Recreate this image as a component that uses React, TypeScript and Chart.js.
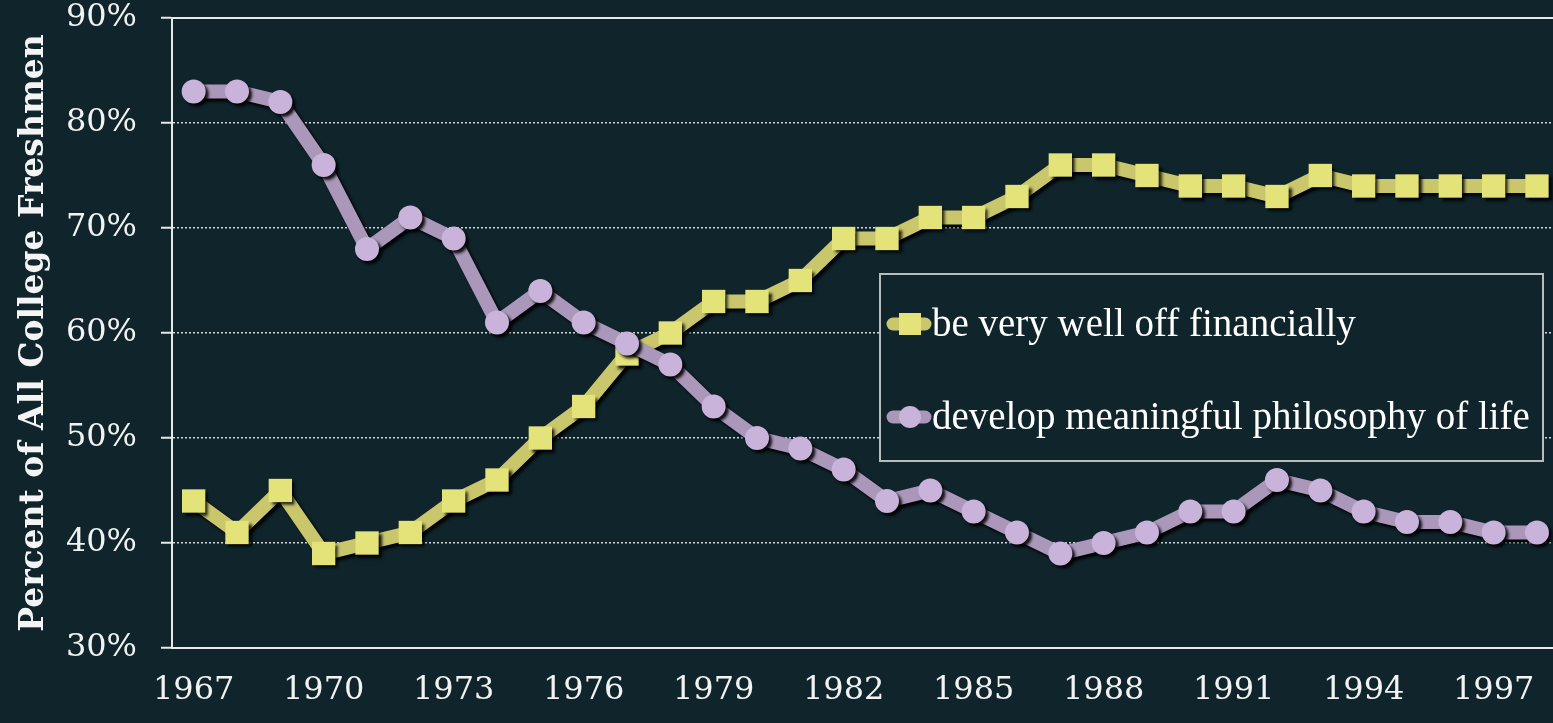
import React, { useEffect, useRef } from "react";
import { Chart, registerables } from "chart.js";

Chart.register(...registerables);

const years = [
  1967, 1968, 1969, 1970, 1971, 1972, 1973, 1974, 1975, 1976, 1977, 1978, 1979, 1980, 1981, 1982,
  1983, 1984, 1985, 1986, 1987, 1988, 1989, 1990, 1991, 1992, 1993, 1994, 1995, 1996, 1997, 1998,
];
const wellOffValues = [
  44, 41, 45, 39, 40, 41, 44, 46, 50, 53, 58, 60, 63, 63, 65, 69,
  69, 71, 71, 73, 76, 76, 75, 74, 74, 73, 75, 74, 74, 74, 74, 74,
];
const philosophyValues = [
  83, 83, 82, 76, 68, 71, 69, 61, 64, 61, 59, 57, 53, 50, 49, 47,
  44, 45, 43, 41, 39, 40, 41, 43, 43, 46, 45, 43, 42, 42, 41, 41,
];
const xTickYears = [1967, 1970, 1973, 1976, 1979, 1982, 1985, 1988, 1991, 1994, 1997];
const seriesLabels = ["be very well off financially", "develop meaningful philosophy of life"];
const yAxisTitle = "Percent of All College Freshmen";

const BG = "#10242b";
const YELLOW_LINE = "#c9c66b";
const YELLOW_POINT = "#e3e37a";
const PURPLE_LINE = "#ab97ba";
const PURPLE_POINT = "#c9b3da";

const shadowPlugin = {
  id: "shadowPlugin",
  beforeDatasetDraw(chart: any) {
    const ctx = chart.ctx;
    ctx.save();
    ctx.shadowColor = "rgba(0,0,0,0.9)";
    ctx.shadowBlur = 3;
    ctx.shadowOffsetX = 3;
    ctx.shadowOffsetY = 3;
  },
  afterDatasetDraw(chart: any) {
    chart.ctx.restore();
  },
};

const frameAndLegendPlugin = {
  id: "frameAndLegend",
  beforeDraw(chart: any) {
    const ctx = chart.ctx;
    ctx.save();
    ctx.fillStyle = BG;
    ctx.fillRect(0, 0, chart.width, chart.height);
    ctx.restore();
  },
  beforeDatasetsDraw(chart: any) {
    const { ctx, chartArea } = chart;
    ctx.save();
    ctx.strokeStyle = "#e8e8e8";
    ctx.lineWidth = 2;
    ctx.beginPath();
    ctx.moveTo(chartArea.left, chartArea.top);
    ctx.lineTo(chartArea.right, chartArea.top);
    ctx.stroke();
    ctx.restore();
  },
  afterDraw(chart: any) {
    const { ctx } = chart;
    const boxL = 880, boxT = 274, boxR = 1543, boxB = 461;
    ctx.save();
    ctx.fillStyle = BG;
    ctx.fillRect(boxL, boxT, boxR - boxL, boxB - boxT);
    ctx.strokeStyle = "#b8bcbd";
    ctx.lineWidth = 2;
    ctx.strokeRect(boxL, boxT, boxR - boxL, boxB - boxT);
    const ds = chart.data.datasets;
    const order = [ds.findIndex((d: any) => d.label === seriesLabels[0]), ds.findIndex((d: any) => d.label === seriesLabels[1])];
    const rowsY = [324, 417];
    order.forEach((idx: number, i: number) => {
      const d = ds[idx];
      const y = rowsY[i];
      ctx.save();
      ctx.strokeStyle = d.borderColor;
      ctx.lineWidth = 13;
      ctx.lineCap = "round";
      ctx.beginPath();
      ctx.moveTo(893, y);
      ctx.lineTo(925, y);
      ctx.stroke();
      ctx.fillStyle = d.pointBackgroundColor;
      if (d.pointStyle === "rect") {
        ctx.fillRect(899, y - 11, 22, 22);
      } else {
        ctx.beginPath();
        ctx.arc(910, y, 11, 0, Math.PI * 2);
        ctx.fill();
      }
      ctx.restore();
      ctx.fillStyle = "#ffffff";
      ctx.font = "39px 'Liberation Serif'";
      ctx.textBaseline = "middle";
      ctx.textAlign = "left";
      ctx.fillText(d.label, 932, y + 2);
    });
    ctx.restore();
  },
};

export default function App() {
  const canvasRef = useRef<HTMLCanvasElement | null>(null);

  useEffect(() => {
    const canvas = canvasRef.current;
    if (!canvas) return;
    const chart = new Chart(canvas, {
      type: "line",
      data: {
        datasets: [
          {
            label: seriesLabels[0],
            data: years.map((yr, i) => ({ x: yr, y: wellOffValues[i] })),
            borderColor: YELLOW_LINE,
            backgroundColor: YELLOW_POINT,
            pointBackgroundColor: YELLOW_POINT,
            pointBorderColor: YELLOW_POINT,
            pointBorderWidth: 0,
            pointStyle: "rect",
            pointRadius: 16.5,
            borderWidth: 14,
            tension: 0,
            order: 1,
          },
          {
            label: seriesLabels[1],
            data: years.map((yr, i) => ({ x: yr, y: philosophyValues[i] })),
            borderColor: PURPLE_LINE,
            backgroundColor: PURPLE_POINT,
            pointBackgroundColor: PURPLE_POINT,
            pointBorderColor: PURPLE_POINT,
            pointBorderWidth: 0,
            pointStyle: "circle",
            pointRadius: 12,
            borderWidth: 14,
            tension: 0,
            order: 0,
          },
        ],
      },
      options: {
        responsive: false,
        animation: false,
        layout: { autoPadding: false, padding: { top: 18, left: 0, right: 0, bottom: 0 } },
        plugins: {
          legend: { display: false },
          tooltip: { enabled: false },
        },
        scales: {
          x: {
            type: "linear",
            min: 1966.5,
            max: 1998.37,
            afterBuildTicks: (scale: any) => {
              scale.ticks = xTickYears.map((v) => ({ value: v }));
            },
            afterFit: (scale: any) => {
              scale.height = 75;
              scale.paddingLeft = 0;
              scale.paddingRight = 0;
            },
            grid: { display: false, drawTicks: false },
            border: { display: true, color: "#e8e8e8", width: 2 },
            ticks: {
              autoSkip: false,
              maxRotation: 0,
              padding: 23,
              color: "#f2f2f2",
              font: { family: "'DejaVu Serif'", size: 32 },
              callback: (v: any) => String(v),
            },
          },
          y: {
            min: 30,
            max: 90,
            afterFit: (scale: any) => {
              scale.width = 172;
              scale.paddingTop = 0;
              scale.paddingBottom = 0;
            },
            grid: {
              color: (c: any) => (c.tick && c.tick.value === 90 ? "rgba(0,0,0,0)" : "rgba(235,235,235,0.9)"),
              lineWidth: 1.5,
              tickColor: "#e8e8e8",
              tickLength: 11,
              tickWidth: 2,
            },
            border: { display: true, color: "#e8e8e8", width: 2, dash: [2, 2] },
            ticks: {
              stepSize: 10,
              padding: 24,
              color: "#f2f2f2",
              font: { family: "'DejaVu Serif'", size: 32 },
              callback: (v: any) => v + "%",
            },
            title: {
              display: true,
              text: yAxisTitle,
              color: "#f4f4f4",
              font: { family: "'DejaVu Serif'", size: 33, weight: "bold" },
              padding: { top: 15, bottom: 0 },
            },
          },
        },
      },
      plugins: [shadowPlugin, frameAndLegendPlugin],
    });
    return () => chart.destroy();
  }, []);

  return (
    <div style={{ position: "fixed", left: 0, top: 0, width: 1553, height: 723, background: BG }}>
      <canvas ref={canvasRef} width={1553} height={723} style={{ display: "block" }} />
    </div>
  );
}
